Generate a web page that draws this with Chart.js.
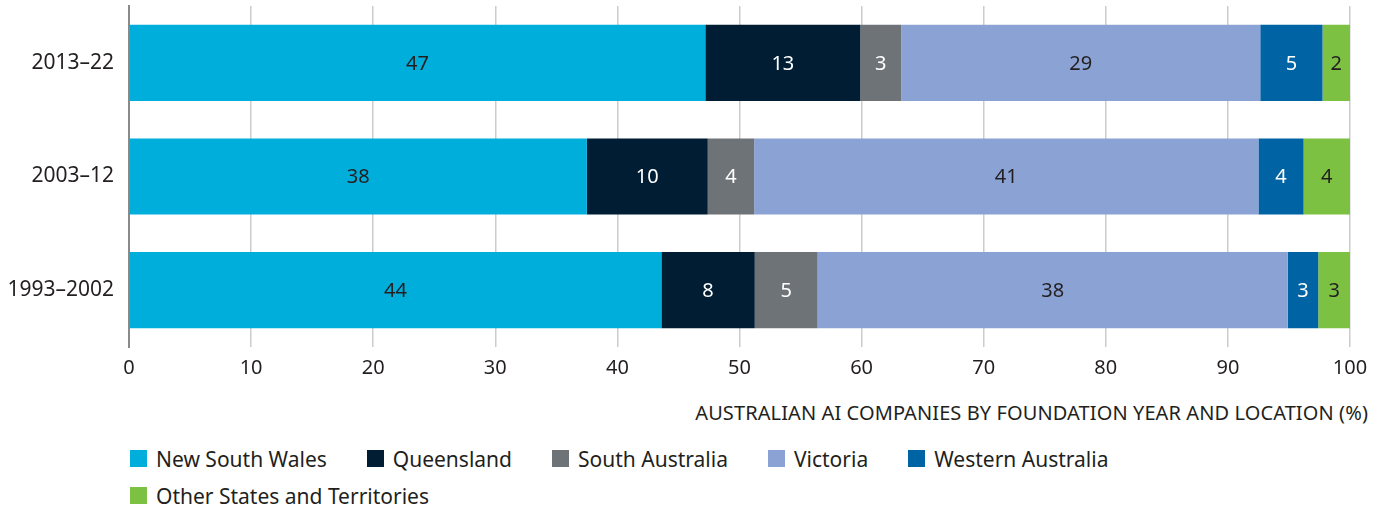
<!DOCTYPE html>
<html>
<head>
<meta charset="utf-8">
<script src="https://cdn.jsdelivr.net/npm/chart.js@4.4.1/dist/chart.umd.min.js"></script>
<style>
  body { margin: 0; background: #fff; font-family: 'Noto Sans', sans-serif; color: #231f20; }
  #wrap { position: relative; width: 1385px; height: 506px; }
  #chartBox { position: absolute; left: 0; top: 0; width: 1385px; height: 390px; }
  #axisTitle { position: absolute; right: 17px; top: 399px; font-size: 20px; letter-spacing: 0.1px; white-space: nowrap; }
  #legend { position: absolute; left: 130px; top: 440px; width: 1240px; display: flex; flex-wrap: wrap; font-size: 21px; }
  .item { display: flex; align-items: center; margin-right: 40px; height: 37px; }
  .box { width: 17px; height: 17px; margin-right: 9px; }
</style>
</head>
<body>
<div id="wrap">
  <div id="chartBox"><canvas id="chart"></canvas></div>
  <div id="axisTitle">AUSTRALIAN AI COMPANIES BY FOUNDATION YEAR AND LOCATION (%)</div>
  <div id="legend"></div>
</div>
<script>
const periods = ['2013–22', '2003–12', '1993–2002'];

// bar lengths (%), printed labels are the rounded figures
const nsw = [47.2, 37.5, 43.6];
const qld = [12.7, 9.9, 7.65];
const sa = [3.35, 3.8, 5.15];
const vic = [29.4, 41.3, 38.5];
const wa = [5.1, 3.7, 2.5];
const other = [2.25, 3.8, 2.6];

const nswLabels = [47, 38, 44];
const qldLabels = [13, 10, 8];
const saLabels = [3, 4, 5];
const vicLabels = [29, 41, 38];
const waLabels = [5, 4, 3];
const otherLabels = [2, 4, 3];

const xTicks = [0, 10, 20, 30, 40, 50, 60, 70, 80, 90, 100];

const series = [
  { label: 'New South Wales', data: nsw, shown: nswLabels, color: '#00aedb', text: '#231f20' },
  { label: 'Queensland', data: qld, shown: qldLabels, color: '#001d33', text: '#ffffff' },
  { label: 'South Australia', data: sa, shown: saLabels, color: '#6e7377', text: '#ffffff' },
  { label: 'Victoria', data: vic, shown: vicLabels, color: '#8ba3d4', text: '#231f20' },
  { label: 'Western Australia', data: wa, shown: waLabels, color: '#0063a3', text: '#ffffff' },
  { label: 'Other States and Territories', data: other, shown: otherLabels, color: '#7dc142', text: '#231f20' }
];

const FONT = "'Noto Sans', sans-serif";

const barLabels = {
  id: 'barLabels',
  afterDatasetsDraw(chart) {
    const ctx = chart.ctx;
    ctx.save();
    ctx.font = '20px ' + FONT;
    ctx.textAlign = 'center';
    ctx.textBaseline = 'middle';
    chart.data.datasets.forEach((ds, di) => {
      const meta = chart.getDatasetMeta(di);
      meta.data.forEach((bar, i) => {
        ctx.fillStyle = series[di].text;
        ctx.fillText(String(series[di].shown[i]), (bar.x + bar.base) / 2, bar.y + 1);
      });
    });
    ctx.restore();
  }
};

new Chart(document.getElementById('chart').getContext('2d'), {
  type: 'bar',
  data: {
    labels: periods,
    datasets: series.map(s => ({
      label: s.label,
      data: s.data,
      backgroundColor: s.color,
      borderWidth: 0,
      barPercentage: 0.67,
      categoryPercentage: 1
    }))
  },
  options: {
    indexAxis: 'y',
    responsive: true,
    maintainAspectRatio: false,
    animation: false,
    layout: { padding: { top: 6, right: 35, left: 0, bottom: 0 } },
    plugins: {
      legend: { display: false },
      tooltip: { enabled: false }
    },
    scales: {
      x: {
        stacked: true,
        min: 0,
        max: 100,
        afterBuildTicks: scale => { scale.ticks = xTicks.map(v => ({ value: v })); },
        afterFit: scale => { scale.height = 43; },
        ticks: { color: '#231f20', font: { family: FONT, size: 20 }, padding: 9 },
        grid: { color: '#cccccc', lineWidth: 1.5, drawTicks: false },
        border: { display: false }
      },
      y: {
        stacked: true,
        afterFit: scale => {
          scale.width = 129;
          scale.paddingTop = 0;
          scale.paddingBottom = 0;
        },
        ticks: { color: '#231f20', font: { family: FONT, size: 21 }, padding: 15 },
        grid: { display: false, drawTicks: false },
        border: { display: true, color: '#8a8a8a', width: 2 }
      }
    }
  },
  plugins: [barLabels]
});

const legend = document.getElementById('legend');
series.forEach(s => {
  const item = document.createElement('div');
  item.className = 'item';
  const box = document.createElement('span');
  box.className = 'box';
  box.style.background = s.color;
  const txt = document.createElement('span');
  txt.textContent = s.label;
  item.appendChild(box);
  item.appendChild(txt);
  legend.appendChild(item);
});
</script>
</body>
</html>
